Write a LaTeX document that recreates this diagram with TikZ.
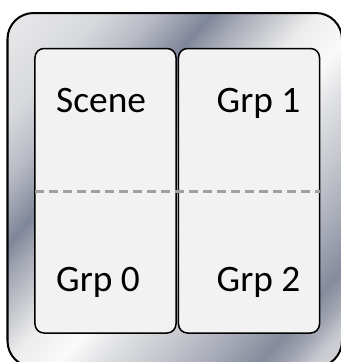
\documentclass[tikz,border=0pt]{standalone}
\usepackage{fontspec}
\setmainfont{Carlito}
\definecolor{m00}{HTML}{E8E8EA}
\definecolor{m01}{HTML}{E4E4E6}
\definecolor{m02}{HTML}{D6D8DC}
\definecolor{m03}{HTML}{B8BBC4}
\definecolor{m04}{HTML}{80869A}
\definecolor{m05}{HTML}{A4A8B4}
\definecolor{m06}{HTML}{C4C6CC}
\definecolor{m07}{HTML}{ECECEC}
\definecolor{m08}{HTML}{FAFAFA}
\definecolor{m09}{HTML}{E0E1E4}
\definecolor{m10}{HTML}{C6C8CE}
\definecolor{m11}{HTML}{A8ACB8}
\definecolor{m12}{HTML}{858B9C}
\definecolor{m13}{HTML}{A0A4B0}
\definecolor{m14}{HTML}{C8CAD0}
\definecolor{m15}{HTML}{D8DADD}
\definecolor{boxfill}{HTML}{F2F2F2}
\definecolor{dashgray}{HTML}{A0A0A0}
\pgfdeclarehorizontalshading{metal}{100bp}{color(0bp)=(m00); color(25bp)=(m00); color(29bp)=(m01); color(33.5bp)=(m02); color(37.5bp)=(m03); color(41.8bp)=(m04); color(44bp)=(m05); color(46.5bp)=(m06); color(49.5bp)=(m07); color(53.5bp)=(m08); color(56.5bp)=(m09); color(60.5bp)=(m10); color(64.5bp)=(m11); color(68.5bp)=(m12); color(70.5bp)=(m13); color(72.5bp)=(m14); color(75bp)=(m15); color(100bp)=(m15)}
\tikzset{
  panel/.style={draw=black, line width=1.5bp, fill=boxfill, rounded corners=9bp,
    rectangle, inner sep=0pt, minimum width=141bp, minimum height=284.5bp},
  lbl/.style={inner sep=0pt, font=\fontsize{37.5}{42}\selectfont},
  dashline/.style={draw=dashgray, line width=3bp, dash pattern=on 9bp off 5bp},
  frame/.style={draw=black, line width=2bp, rounded corners=26bp}
}
\begin{document}
\begin{tikzpicture}[x=1bp, y=-1bp]
\useasboundingbox (0,0) rectangle (341,362);
\begin{scope}
  \clip[rounded corners=26bp] (7.5,13) rectangle (342,367);
  \shade[shading=metal, transform canvas={rotate=-41.5}] (0,-400) rectangle (500,400);
\end{scope}
\draw[frame] (7.5,13) rectangle (342,367);
\node[panel] (lbox) at (105.5,190.75) {};
\node[panel] (rbox) at (249,190.75) {};
\coordinate (dl) at (35,191);
\coordinate (dr) at (319.5,191);
\draw[dashline] (dl) -- (dr);
\node[lbl, anchor=base west] (scene) at (56,112.7) {Scene};
\node[lbl, anchor=base west] (grp0) at (56,291) {Grp 0};
\node[lbl, anchor=base east] (grp1) at (300.5,112.7) {Grp 1};
\node[lbl, anchor=base east] (grp2) at (300.5,291) {Grp 2};
\end{tikzpicture}
\end{document}
